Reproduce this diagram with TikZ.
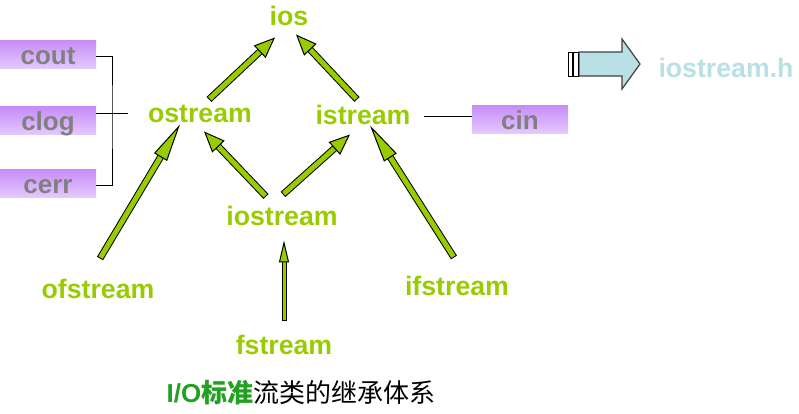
\documentclass[tikz,border=0pt]{standalone}
\usepackage{fontspec}
\setmainfont{Liberation Sans}
\newfontfamily\cjk{Noto Sans CJK SC}
\usepackage{xcolor}
\usepackage{tikz}
\usetikzlibrary{arrows.meta,calc}

\definecolor{ygreen}{RGB}{153,204,0}
\definecolor{capgreen}{RGB}{34,160,34}
\definecolor{boxtop}{RGB}{198,140,246}
\definecolor{boxbot}{RGB}{228,200,255}
\definecolor{hintblue}{RGB}{185,224,228}
\definecolor{textgray}{RGB}{128,128,128}

\begin{document}
\begin{tikzpicture}[
    x=1pt, y=-1pt,
    cls/.style={font=\fontsize{26.7}{30}\selectfont\bfseries, text=ygreen, inner sep=0pt, anchor=base},
    stdbox/.style={rectangle, top color=boxtop, bottom color=boxbot, minimum width=96pt, minimum height=28pt, inner sep=0pt, text height=20pt, text depth=0pt, text=textgray, font=\fontsize{26}{30}\selectfont\bfseries},
    inh/.style={preaction={draw=black, -, line width=7pt, shorten <=0pt, shorten >=20pt}, draw=ygreen, line width=5pt, shorten <=1pt, -{Triangle[length=21pt, width=17pt, line width=1pt, color=black, fill=ygreen]}},
    inhlong/.style={preaction={draw=black, -, line width=7pt, shorten <=0pt, shorten >=36pt}, draw=ygreen, line width=5pt, shorten <=1pt, -{Triangle[length=38pt, width=15pt, line width=1pt, color=black, fill=ygreen]}},
    inhthin/.style={preaction={draw=black, -, line width=5pt, shorten <=0pt, shorten >=20pt}, draw=ygreen, line width=3pt, shorten <=1pt, -{Triangle[length=22pt, width=10pt, line width=1pt, color=black, fill=ygreen]}},
    link/.style={draw, line width=0.8pt},
    hintarrow/.style={draw={rgb,255:red,64;green,64;blue,64}, line width=1.2pt, fill=hintblue}
]
\useasboundingbox (0,0) rectangle (799,413);

% class names
\node [cls] (ios) at (289,25) {ios};
\node [cls] (ostream) at (200,122) {ostream};
\node [cls] (istream) at (363,124) {istream};
\node [cls] (iostream) at (282,225) {iostream};
\node [cls] (ofstream) at (98,298) {ofstream};
\node [cls] (fstream) at (284,354) {fstream};
\node [cls] (ifstream) at (457,295) {ifstream};

% standard objects
\node [stdbox] (cout) at (48,54) {cout};
\node [stdbox] (clog) at (48,120.5) {clog};
\node [stdbox] (cerr) at (48,183) {cerr};
\node [stdbox] (cin) at (520,119) {cin};

\coordinate (brk) at (112,113);
\coordinate (brkend) at (128,113);
\coordinate (cinend) at (424,116);
\draw [link] ([yshift=-2pt]cout.east) -| (brk) |- ([yshift=-2pt]cerr.east);
\draw [link] ([yshift=7.5pt]clog.east) -- (brkend);
\draw [link] (cinend) -- (cinend -| cin.west);

% inheritance
\draw [inh] ([shift={(9,-5)}]ostream.north) -- ([shift={(-14,12)}]ios.south);
\draw [inh] ([shift={(-6,-5)}]istream.north) -- ([shift={(7,9)}]ios.south);
\draw [inh] ([shift={(-16,-9)}]iostream.north) -- ([shift={(4,9)}]ostream.south);
\draw [inh] ([shift={(1,-11)}]iostream.north) -- ([shift={(-13,10)}]istream.south);
\draw [inhlong] ([shift={(2,-20)}]ofstream.north) -- ([shift={(-20,2)}]ostream.south);
\draw [inhlong] ([shift={(-3,-18)}]ifstream.north) -- ([shift={(7,1)}]istream.south);
\draw [inhthin] ([shift={(0,-13)}]fstream.north) -- ([shift={(2,15)}]iostream.south);

% header hint
\draw [hintarrow] (579,52) -- (622,52) -- (622,39) -- (640,64) -- (622,89) -- (622,76) -- (579,76) -- cycle;
\draw [fill=white, line width=0.6pt] (568,52) rectangle (572,76);
\draw [fill=white, line width=0.6pt] (573,52) rectangle (578,76);
\node [cls, text=hintblue] (header) at (726,77) {iostream.h};

\node [anchor=base, inner sep=0pt, font=\fontsize{26}{30}\selectfont] (caption) at (301,402)
    {\textcolor{capgreen}{\bfseries I/O{\cjk 标准}}{\cjk 流类的继承体系}};
\end{tikzpicture}
\end{document}
